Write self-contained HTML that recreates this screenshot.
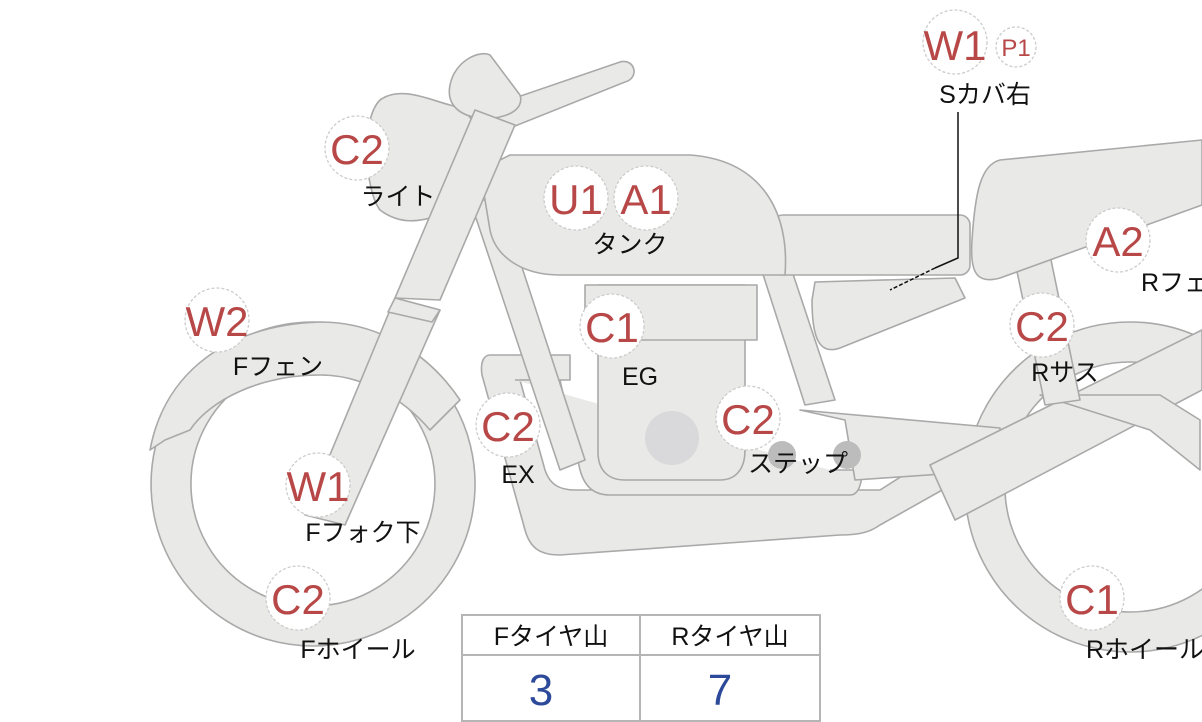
<!DOCTYPE html>
<html><head><meta charset="utf-8"><style>
html,body{margin:0;padding:0;background:#fff;}
svg{display:block}
.s{fill:#e9e9e7;stroke:#a9a9a9;stroke-width:1.6;stroke-linejoin:round}
.c{fill:#fff;stroke:#ccc;stroke-width:1.3;stroke-dasharray:3 2}
.t{font-family:"Liberation Sans","Noto Sans CJK JP",sans-serif;fill:#b84848;font-size:42px;text-anchor:middle}
.l{font-family:"Liberation Sans","Noto Sans CJK JP",sans-serif;fill:#111;font-size:25px;text-anchor:middle}
</style></head><body>
<svg width="1202" height="722" viewBox="0 0 1202 722" xmlns="http://www.w3.org/2000/svg">
<!-- rear wheel -->
<path class="s" fill-rule="evenodd" d="M1130,322a165,165 0 1,0 0.1,0zM1130,362a125,125 0 1,1 -0.1,0z"/>
<!-- front wheel -->
<path class="s" fill-rule="evenodd" d="M313,322a162,162 0 1,0 0.1,0zM313,362a122,122 0 1,1 -0.1,0z"/>
<!-- front fender -->
<path class="s" d="M150,450 C165,370 230,325 320,322 C380,322 430,355 460,400 L430,430 C400,395 360,375 320,375 C260,375 210,400 190,430 L165,440 Z"/>
<!-- exhaust / lower frame -->
<path class="s" d="M490,355 L570,355 L570,380 L520,380 L545,470 C550,485 560,490 575,490 L880,490 L935,455 L960,480 L880,525 C870,532 860,535 840,535 L560,555 C540,555 530,548 525,530 L482,375 C480,362 484,355 490,355Z"/>
<path class="s" d="M515,380 L560,380 L580,470 C585,488 595,495 610,495 L850,495 C860,495 862,480 862,470 L862,470 L830,470"/>
<!-- frame tubes -->
<path class="s" d="M470,200 L500,200 L585,460 L560,470 Z"/>
<path class="s" d="M760,265 L790,265 L835,400 L805,405 Z"/>
<!-- engine -->
<path class="s" d="M598,285 L745,285 L745,450 C745,470 735,480 720,480 L625,480 C608,480 598,470 598,452 Z"/>
<rect class="s" x="585" y="285" width="172" height="55"/>
<circle cx="672" cy="438" r="27" fill="#d9d9db"/>
<!-- footrest bar -->
<path class="s" d="M800,410 L1000,428 L1000,470 L855,480 L845,420 Z"/>
<circle cx="782" cy="455" r="14" fill="#bcbcbc"/>
<circle cx="847" cy="455" r="14" fill="#bcbcbc"/>
<!-- swingarm X -->
<path class="s" d="M930,465 L1202,330 L1202,390 L955,520 Z"/>
<path class="s" d="M1040,395 L1150,430 L1200,470 L1200,420 L1160,395 Z"/>
<!-- rear sus -->
<path class="s" d="M1015,262 L1050,255 L1080,400 L1045,405 Z"/>
<!-- side cover -->
<path class="s" d="M815,282 L955,278 L965,298 L840,348 C820,355 812,340 812,300 Z"/>
<!-- seat -->
<rect class="s" x="773" y="215" width="197" height="60" rx="10"/>
<!-- rear cowl -->
<path class="s" d="M1000,160 L1202,140 L1202,205 L1000,278 C975,285 970,270 972,240 C975,195 980,165 1000,160Z"/>
<!-- tank -->
<path class="s" d="M510,155 L690,155 C760,160 790,210 785,275 L560,275 C520,275 495,255 490,230 L480,170 Z"/>
<!-- handlebar -->
<path class="s" d="M465,115 L620,62 C635,58 640,78 625,82 L505,130 Z"/>
<!-- headlight -->
<path class="s" d="M380,100 C400,85 430,100 450,105 C470,110 485,130 480,165 C475,190 460,210 440,215 C420,222 400,225 380,210 C365,190 360,120 380,100Z"/>
<!-- mirror -->
<path class="s" d="M450,85 C455,60 480,50 490,55 L520,95 C525,110 505,120 480,118 C460,116 446,105 450,85Z"/>
<!-- fork -->
<path class="s" d="M475,110 L515,125 L440,300 L395,298 Z"/>
<path class="s" d="M395,298 L440,310 L345,525 L305,515 Z"/>
<path class="s" d="M395,298 L440,310 L432,322 L388,312 Z"/>
<!-- leader line -->
<path d="M958,112 L958,258 L935,268" stroke="#111" stroke-width="1.5" fill="none"/>
<path d="M935,268 L890,290" stroke="#111" stroke-width="1.5" stroke-dasharray="4 2" fill="none"/>
<!-- labels -->
<g>
<circle class="c" cx="357" cy="148" r="32"/><text class="t" x="357" y="164">C2</text><text class="l" x="398" y="205">ライト</text>
<circle class="c" cx="576" cy="198" r="32"/><text class="t" x="576" y="214">U1</text>
<circle class="c" cx="646" cy="198" r="32"/><text class="t" x="646" y="214">A1</text><text class="l" x="630" y="253">タンク</text>
<circle class="c" cx="612" cy="326" r="32"/><text class="t" x="612" y="342">C1</text><text class="l" x="640" y="385">EG</text>
<circle class="c" cx="217" cy="320" r="32"/><text class="t" x="217" y="336">W2</text><text class="l" x="278" y="375">Fフェン</text>
<circle class="c" cx="508" cy="425" r="32"/><text class="t" x="508" y="441">C2</text><text class="l" x="518" y="483">EX</text>
<circle class="c" cx="748" cy="418" r="32"/><text class="t" x="748" y="434">C2</text><text class="l" x="798" y="472">ステップ</text>
<circle class="c" cx="318" cy="485" r="32"/><text class="t" x="318" y="501">W1</text><text class="l" x="363" y="541">Fフォク下</text>
<circle class="c" cx="298" cy="598" r="32"/><text class="t" x="298" y="614">C2</text><text class="l" x="358" y="658">Fホイール</text>
<circle class="c" cx="955" cy="42" r="32"/><text class="t" x="955" y="60">W1</text>
<circle class="c" cx="1016" cy="47" r="20"/><text class="t" x="1016" y="56" style="font-size:24px">P1</text>
<text class="l" x="985" y="103">Sカバ右</text>
<circle class="c" cx="1118" cy="240" r="32"/><text class="t" x="1118" y="256">A2</text><text class="l" x="1175" y="291">Rフェ</text>
<circle class="c" cx="1042" cy="325" r="32"/><text class="t" x="1042" y="341">C2</text><text class="l" x="1065" y="381">Rサス</text>
<circle class="c" cx="1092" cy="598" r="32"/><text class="t" x="1092" y="614">C1</text><text class="l" x="1145" y="658">Rホイール</text>
</g>
<!-- table -->
<rect x="462" y="615" width="358" height="106" fill="#fff" stroke="#b5b5b5" stroke-width="2"/>
<line x1="462" y1="655" x2="820" y2="655" stroke="#b5b5b5" stroke-width="2"/>
<line x1="640" y1="615" x2="640" y2="721" stroke="#b5b5b5" stroke-width="2"/>
<text class="l" x="551" y="645">Fタイヤ山</text>
<text class="l" x="730" y="645">Rタイヤ山</text>
<text x="541" y="705" style="font-family:'Liberation Sans',sans-serif;font-size:44px;fill:#2d4a9a;text-anchor:middle">3</text>
<text x="720" y="705" style="font-family:'Liberation Sans',sans-serif;font-size:44px;fill:#2d4a9a;text-anchor:middle">7</text>
</svg>
</body></html>
